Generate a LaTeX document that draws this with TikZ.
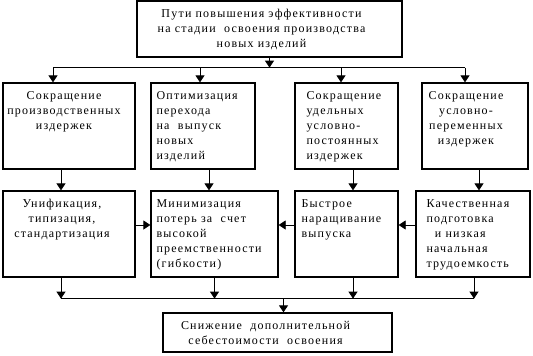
\documentclass[tikz,border=0pt]{standalone}
\usepackage{fontspec}
\setmainfont{Liberation Serif}[LetterSpace=10]
\usetikzlibrary{arrows.meta,positioning}

\begin{document}
\begin{tikzpicture}[x=1pt, y=-1pt,
    box/.style={draw, line width=1.3pt, inner sep=0pt},
    txt/.style={font=\fontsize{12}{15}\selectfont, inner sep=0pt},
    arr/.style={line width=0.8pt, -{Triangle[width=9pt,length=7pt]}},
    bus/.style={line width=0.8pt},
]
\useasboundingbox[fill=white] (0,0) rectangle (533,356);

% Top box
\node[box, minimum width=265pt, minimum height=56pt] (top) at (269.5,29) {};
\node[txt, align=center, anchor=north] (topT) at ([xshift=-8pt, yshift=-6pt]top.north)
    {\strut Пути повышения эффективности\\на стадии\ \ освоения производства\\новых изделий};

% First row
\node[box, minimum width=132pt, minimum height=86pt] (b1) at (69,126) {};
\node[box, minimum width=104pt, minimum height=86pt] (b2) at (203,126) {};
\node[box, minimum width=103pt, minimum height=86pt] (b3) at (346.5,126) {};
\node[box, minimum width=106pt, minimum height=86pt] (b4) at (475,126) {};

\node[txt, align=center, anchor=north] (b1T) at ([xshift=-5pt, yshift=-6pt]b1.north)
    {\strut Сокращение\\производственных\\издержек};
\node[txt, align=left, anchor=north west] (b2T) at ([xshift=6pt, yshift=-6pt]b2.north west)
    {\strut Оптимизация\\перехода\\на\ \ выпуск\\новых\\изделий};
\node[txt, align=left, anchor=north west] (b3T) at ([xshift=12pt, yshift=-6pt]b3.north west)
    {\strut Сокращение\\удельных\\условно-\\постоянных\\издержек};
\node[txt, align=center, anchor=north] (b4T) at ([xshift=-9pt, yshift=-6pt]b4.north)
    {\strut Сокращение\\условно-\\переменных\\издержек};

% Second row
\node[box, minimum width=132pt, minimum height=86pt] (c1) at (69,234) {};
\node[box, minimum width=127pt, minimum height=86pt] (c2) at (214.5,234) {};
\node[box, minimum width=103pt, minimum height=86pt] (c3) at (346.5,234) {};
\node[box, minimum width=114pt, minimum height=86pt] (c4) at (473,234) {};

\node[txt, align=center, anchor=north] (c1T) at ([xshift=-7pt, yshift=-6pt]c1.north)
    {\strut Унификация,\\типизация,\\стандартизация};
\node[txt, align=left, anchor=north west] (c2T) at ([xshift=6pt, yshift=-6pt]c2.north west)
    {\strut Минимизация\\потерь за\ \ счет\\высокой\\преемственности\\(гибкости)};
\node[txt, align=left, anchor=north west] (c3T) at ([xshift=7pt, yshift=-6pt]c3.north west)
    {\strut Быстрое\\наращивание\\выпуска};
\node[txt, align=left, anchor=north west] (c4T) at ([xshift=11pt, yshift=-6pt]c4.north west)
    {\strut Качественная\\подготовка\\\ \ и низкая\\начальная\\трудоемкость};

% Result box
\node[box, minimum width=229pt, minimum height=39pt] (res) at (277.5,332.5) {};
\node[txt, align=center, anchor=north] (resT) at ([xshift=-12pt, yshift=-6pt]res.north)
    {\strut Снижение\ \ дополнительной\\себестоимости\ \ освоения};

% Top distribution
\coordinate (bus) at ([yshift=-10pt]top.south);
\coordinate (a1) at ([xshift=-16pt]b1.north);
\coordinate (a2) at ([xshift=-3pt]b2.north);
\coordinate (a3) at ([xshift=-5.5pt]b3.north);
\coordinate (a4) at ([xshift=-10pt]b4.north);
\draw[arr] (top.south) -- (bus);
\draw[bus] (bus -| a1) -- (bus -| a4);
\foreach \n in {1,...,4}
    \draw[arr] (bus -| a\n) -- (a\n);

% Row to row
\foreach \n/\s in {1/-8, 2/6, 3/6.5, 4/4}
    \draw[arr] ([xshift=\s pt]b\n.south) -- ([xshift=\s pt]b\n.south |- c\n.north);

% Side arrows
\draw[arr] ([yshift=9pt]c1.east) -- ([yshift=9pt]c1.east -| c2.west);
\draw[arr] ([yshift=9pt]c3.west) -- ([yshift=9pt]c3.west -| c2.east);
\draw[arr] ([yshift=9pt]c4.west) -- ([yshift=9pt]c4.west -| c3.east);

% Bottom collection
\coordinate (bus2) at ([yshift=-21pt]c1.south);
\coordinate (d1) at ([xshift=-8pt]c1.south);
\coordinate (d2) at (c2.south);
\coordinate (d3) at ([xshift=6.5pt]c3.south);
\coordinate (d4) at ([xshift=1pt]c4.south);
\foreach \n in {1,...,4}
    \draw[arr] (d\n) -- (bus2 -| d\n);
\draw[bus] (bus2 -| d1) -- (bus2 -| d4);
\coordinate (e) at ([xshift=6pt]res.north);
\draw[arr] (bus2 -| e) -- (e);

\end{tikzpicture}
\end{document}
